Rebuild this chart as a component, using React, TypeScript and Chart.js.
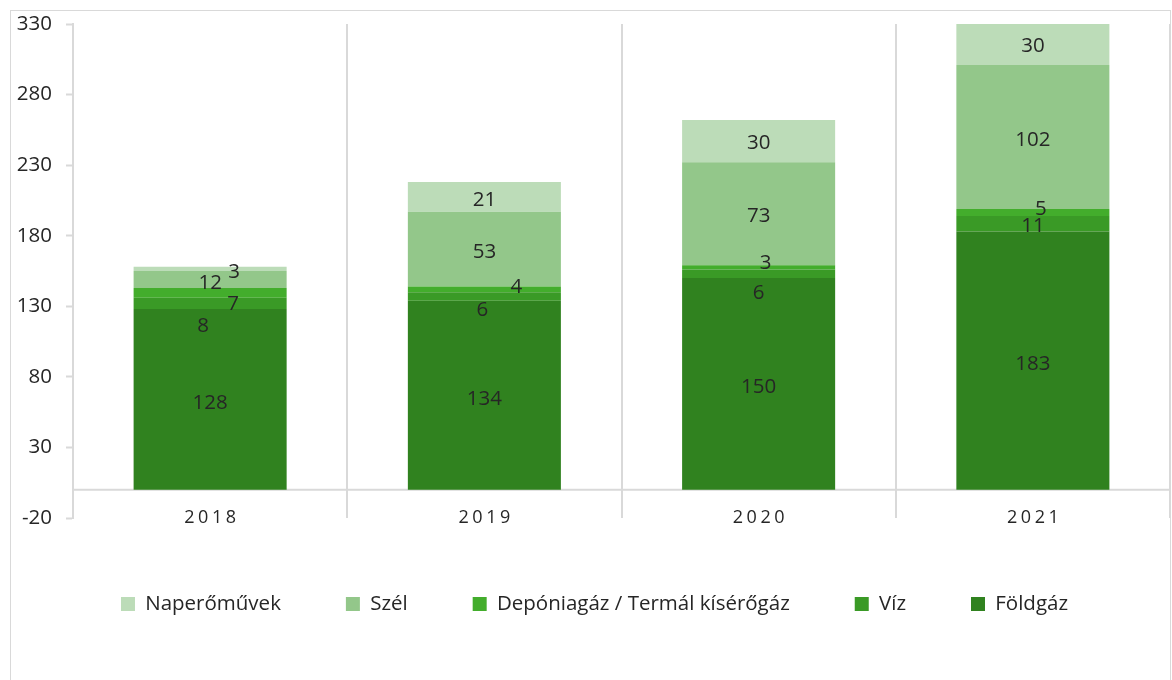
import React, { useEffect, useRef } from 'react';
import { Chart, registerables } from 'chart.js';

Chart.register(...registerables);

const years = ['2018', '2019', '2020', '2021'];
const foldgaz = [128, 134, 150, 183];
const viz = [8, 6, 6, 11];
const deponia = [7, 4, 3, 5];
const szel = [12, 53, 73, 102];
const napero = [3, 21, 30, 30];
const yTicks = [-20, 30, 80, 130, 180, 230, 280, 330];
const seriesNames = ['Földgáz', 'Víz', 'Depóniagáz / Termál kísérőgáz', 'Szél', 'Naperőművek'];
const seriesValues = [foldgaz, viz, deponia, szel, napero];

const colors = ['#30821f', '#3a9a26', '#43ad2c', '#93c78a', '#bcdcb8'];
const FONT = "'Open Sans', 'Noto Sans', sans-serif";
const TEXT = '#262626';
const GRID = '#d9d9d9';

// label nudges (dx, dy) per series per year, mimicking the reference's label placement
const labelNudgeX = [
  [0, 0, 0, 0],
  [-7, -2, 0, 0],
  [23, 32, 7, 8],
  [0, 0, 0, 0],
  [24, 0, 0, 0],
];
const labelNudgeY = [
  [2, 2, 2, 2],
  [21, 12, 18, 1],
  [10, -4, -6, -5],
  [2, 2, 1, 2],
  [2, 2, 1, 1],
];

const zeroLinePlugin = {
  id: 'zeroLine',
  beforeDatasetsDraw(chart: any) {
    const { ctx, chartArea, scales } = chart;
    const y0 = scales.y.getPixelForValue(0);
    ctx.save();
    ctx.strokeStyle = GRID;
    ctx.lineWidth = 2;
    ctx.beginPath();
    ctx.moveTo(chartArea.left, y0);
    ctx.lineTo(chartArea.right, y0);
    ctx.stroke();
    ctx.restore();
  },
};

const legendShiftPlugin = {
  id: 'legendShift',
  afterLayout(chart: any) {
    if (chart.legend) {
      chart.legend.left += 4;
      chart.legend.right += 4;
    }
  },
};

const xLabelPlugin = {
  id: 'xLabels',
  afterDraw(chart: any) {
    const { ctx, chartArea, scales } = chart;
    ctx.save();
    ctx.font = `18px ${FONT}`;
    ctx.fillStyle = TEXT;
    ctx.textAlign = 'center';
    ctx.textBaseline = 'middle';
    (ctx as any).letterSpacing = '3.5px';
    years.forEach((yr, i) => {
      ctx.fillText(yr, scales.x.getPixelForValue(i) + 1.75, chartArea.bottom);
    });
    ctx.restore();
  },
};

const dataLabelPlugin = {
  id: 'dataLabels',
  afterDatasetsDraw(chart: any) {
    const { ctx } = chart;
    ctx.save();
    ctx.font = `20.5px ${FONT}`;
    ctx.fillStyle = TEXT;
    ctx.textAlign = 'center';
    ctx.textBaseline = 'middle';
    chart.data.datasets.forEach((ds: any, di: number) => {
      const meta = chart.getDatasetMeta(di);
      meta.data.forEach((el: any, i: number) => {
        const v = ds.data[i];
        const cy = (el.y + el.base) / 2;
        ctx.fillText(String(v), el.x + labelNudgeX[di][i], cy + labelNudgeY[di][i] + 1.5);
      });
    });
    ctx.restore();
  },
};

export default function App() {
  const ref = useRef<HTMLCanvasElement>(null);

  useEffect(() => {
    const chart = new Chart(ref.current as HTMLCanvasElement, {
      type: 'bar',
      data: {
        labels: years,
        datasets: seriesNames.map((name, i) => ({
          label: name,
          data: seriesValues[i],
          backgroundColor: colors[i],
          borderWidth: 0,
          stack: 'total',
          categoryPercentage: 1,
          barPercentage: 0.558,
        })),
      },
      options: {
        responsive: false,
        animation: false,
        layout: { padding: { top: 13, left: 0, right: 0, bottom: 55.75 } },
        plugins: {
          tooltip: { enabled: false },
          legend: {
            position: 'bottom',
            reverse: true,
            labels: {
              boxWidth: 14,
              boxHeight: 14,
              padding: 65,
              color: TEXT,
              font: { family: FONT, size: 20.5 },
            },
          },
        },
        scales: {
          x: {
            stacked: true,
            offset: true,
            ticks: { display: false },
            border: { display: false },
            grid: {
              offset: true,
              drawTicks: false,
              color: GRID,
              lineWidth: 2,
            },
            afterFit(scale: any) {
              scale.height = 10.75;
              scale.paddingLeft = 0;
              scale.paddingRight = 0;
            },
          },
          y: {
            stacked: true,
            min: -20,
            max: 330,
            afterBuildTicks(scale: any) {
              scale.ticks = yTicks.map((v) => ({ value: v }));
            },
            ticks: {
              color: TEXT,
              padding: 14,
              font: { family: FONT, size: 20.5 },
            },
            border: { display: true, color: GRID, width: 2 },
            grid: {
              drawOnChartArea: false,
              drawTicks: true,
              tickLength: 7,
              tickColor: GRID,
              tickWidth: 2,
            },
            afterFit(scale: any) {
              scale.width = 62;
              scale.paddingTop = 0;
              scale.paddingBottom = 0;
            },
          },
        },
      },
      plugins: [zeroLinePlugin, dataLabelPlugin, xLabelPlugin, legendShiftPlugin],
    } as any);
    return () => chart.destroy();
  }, []);

  return (
    <div
      style={{
        position: 'fixed',
        left: 10,
        top: 10,
        width: 1161,
        height: 690,
        boxSizing: 'border-box',
        border: `1px solid ${GRID}`,
        background: '#fff',
      }}
    >
      <canvas ref={ref} width={1159} height={669} style={{ display: 'block', width: 1159, height: 669 }} />
    </div>
  );
}
